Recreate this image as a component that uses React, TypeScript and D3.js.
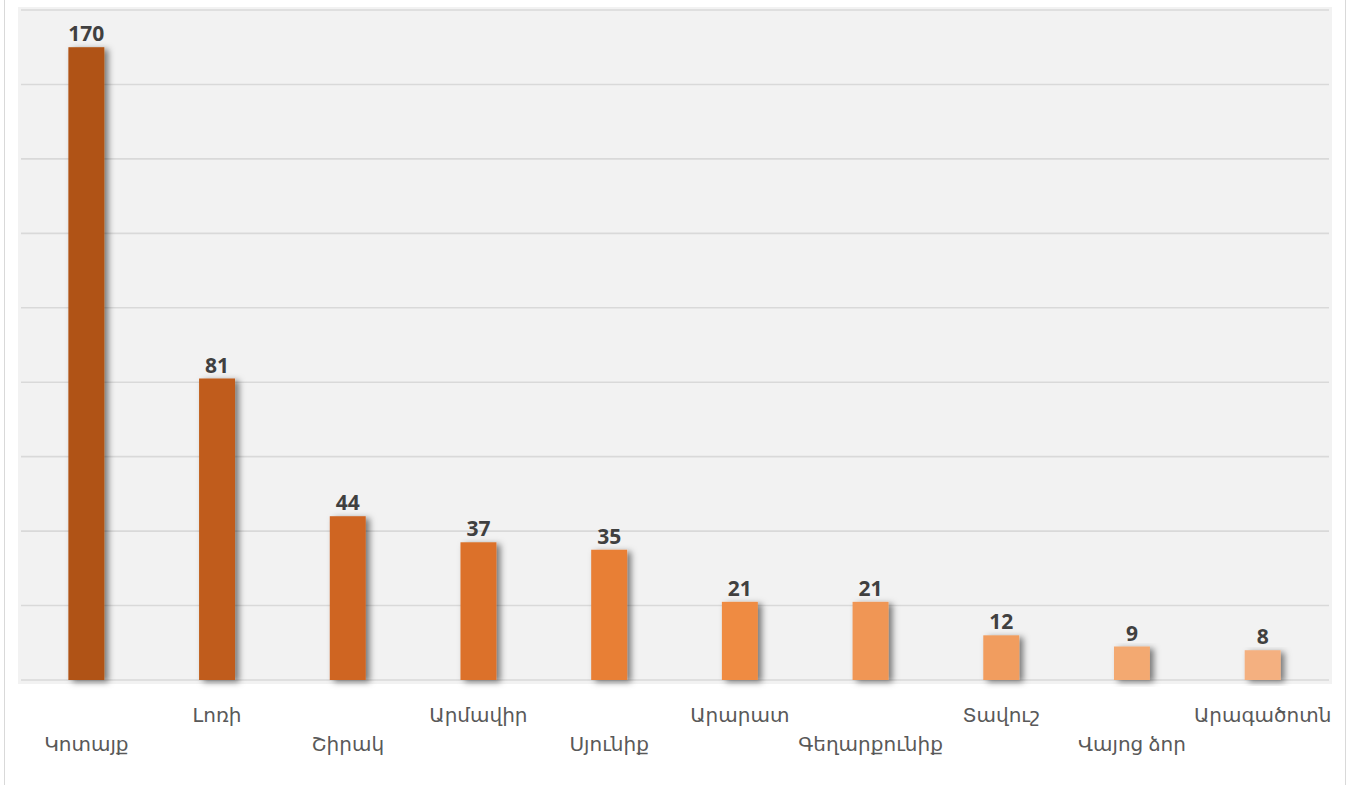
import React from "react";
import * as d3 from "d3";

const categories = ["Կոտայք", "Լոռի", "Շիրակ", "Արմավիր", "Սյունիք", "Արարատ", "Գեղարքունիք", "Տավուշ", "Վայոց ձոր", "Արագածոտն"];
const values = [170, 81, 44, 37, 35, 21, 21, 12, 9, 8];
const barColors = ["#B05212", "#C05B1A", "#CF6524", "#DC712C", "#E87F36", "#EF8B42", "#F09654", "#F19D5F", "#F3A971", "#F4B080"];
const gridTicks = [0, 20, 40, 60, 80, 100, 120, 140, 160, 180];

const W = 1349;
const H = 785;
const plot = { left: 21, right: 1328, top: 10, bottom: 680 };

export default function App() {
  const x = d3.scaleBand<string>().domain(categories).range([plot.left, plot.right]).paddingInner(0.725).paddingOuter(0.3625);
  const y = d3.scaleLinear().domain([0, 180]).range([plot.bottom, plot.top]);
  const font = "'Noto Sans', 'DejaVu Sans', sans-serif";
  return (
    <svg width={W} height={H} style={{ position: "absolute", left: 0, top: 0, display: "block", background: "#fff" }}>
      <defs>
        <filter id="sh" x="-50%" y="-10%" width="220%" height="130%">
          <feDropShadow dx="4" dy="2" stdDeviation="3.2" floodColor="#000" floodOpacity="0.5" />
        </filter>
      </defs>
      <line x1={4.5} x2={4.5} y1={0} y2={H} stroke="#D9D9D9" strokeWidth={1} />
      <line x1={1345.5} x2={1345.5} y1={0} y2={H} stroke="#D9D9D9" strokeWidth={1} />
      <rect x={18} y={7} width={1314} height={677} fill="#F2F2F2" />
      {gridTicks.map((t) => (
        <line key={t} x1={plot.left} x2={plot.right + 1} y1={y(t)} y2={y(t)} stroke="#D9D9D9" strokeWidth={1.6} />
      ))}
      {categories.map((c, i) => (
        <rect key={c} x={x(c)} y={y(values[i])} width={x.bandwidth()} height={y(0) - y(values[i])} fill={barColors[i]} filter="url(#sh)" />
      ))}
      {categories.map((c, i) => (
        <text key={"v" + c} x={(x(c) as number) + x.bandwidth() / 2} y={y(values[i]) - 6} textAnchor="middle" fontFamily="'Open Sans', sans-serif" fontWeight="bold" fontSize={21} fill="#404040">
          {values[i]}
        </text>
      ))}
      {categories.map((c, i) => (
        <text key={"c" + c} x={(x(c) as number) + x.bandwidth() / 2} y={i % 2 === 0 ? 751 : 722} textAnchor="middle" fontFamily={font} fontSize={20} fill="#595959">
          {c}
        </text>
      ))}
    </svg>
  );
}
